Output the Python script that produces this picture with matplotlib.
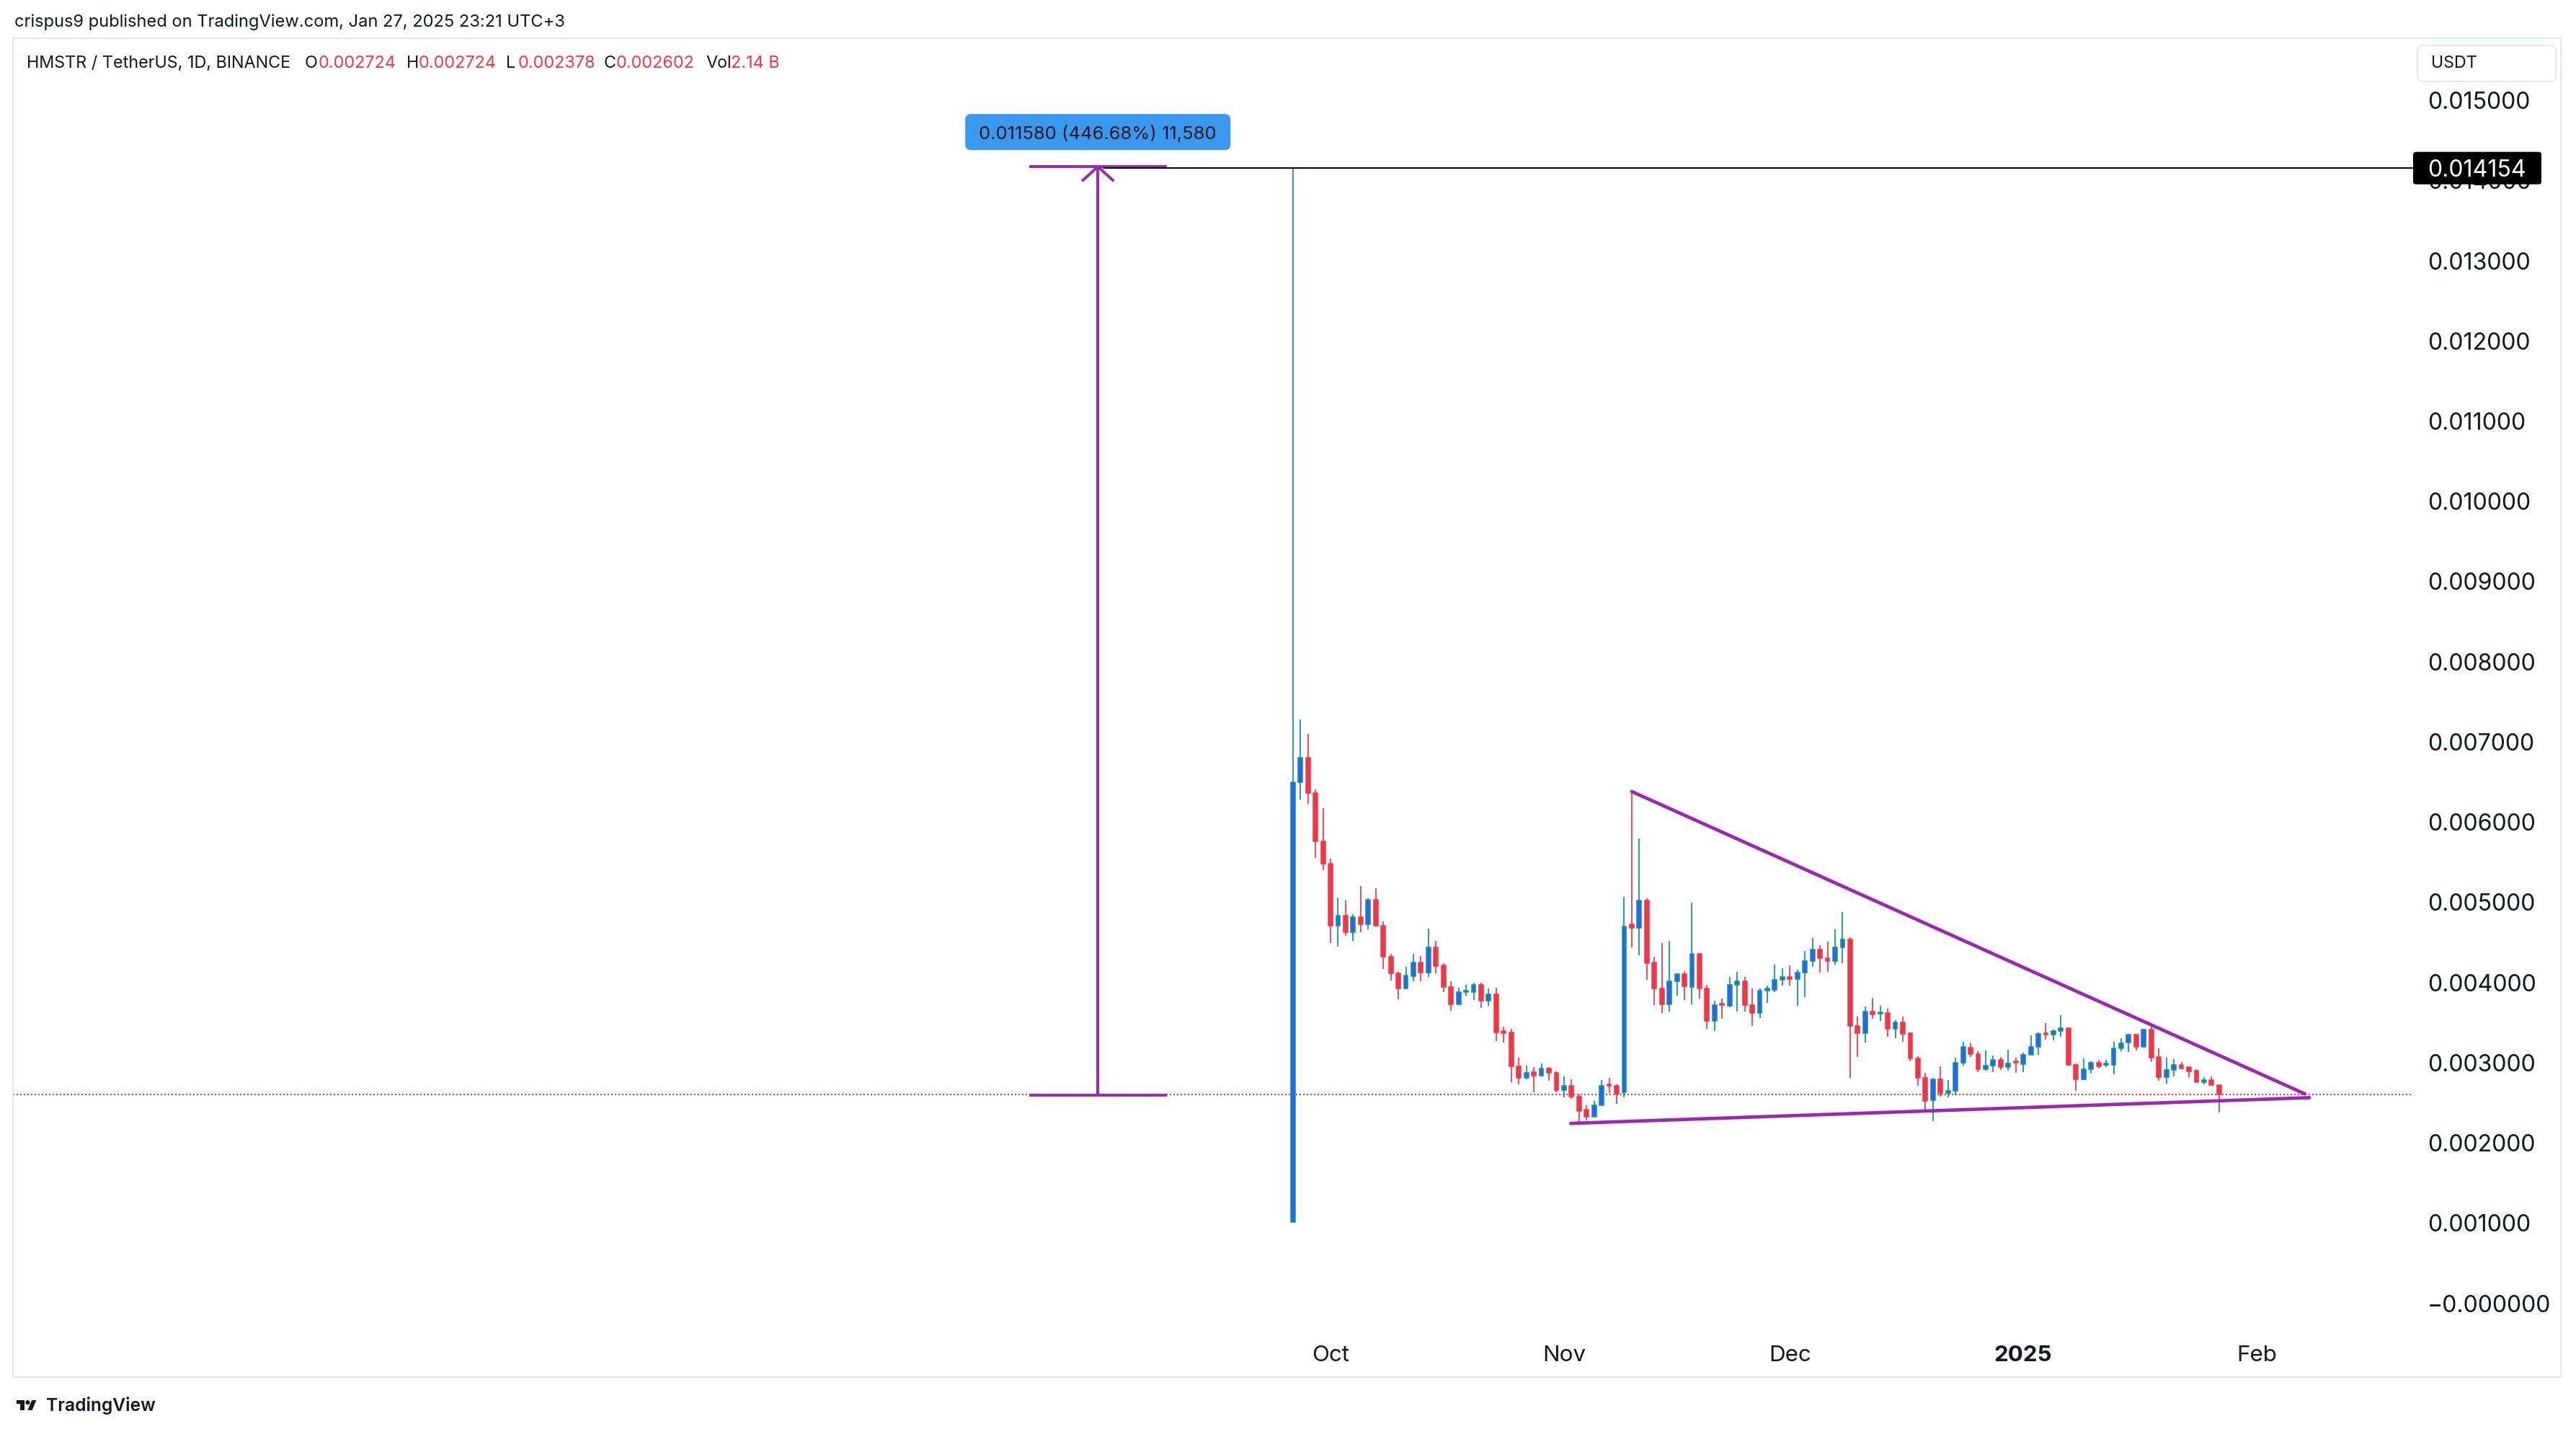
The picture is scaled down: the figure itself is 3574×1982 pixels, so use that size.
import numpy as np
import pandas as pd
import matplotlib
matplotlib.use("Agg")
import matplotlib.pyplot as plt
import matplotlib.dates as mdates
from matplotlib.font_manager import FontProperties
from matplotlib.patches import FancyBboxPatch, Rectangle, Polygon, Circle

FONT = ["Inter", "DejaVu Sans"]
plt.rcParams["font.family"] = FONT

# HMSTR / USDT daily candles, prices in thousandths of a USDT
dates = pd.date_range("2024-09-26", "2025-01-27", freq="D")
opens = [1.01, 6.50, 6.80, 6.36, 5.76, 5.48, 4.71, 4.83, 4.63, 4.81,
         4.72, 5.03, 4.71, 4.32, 4.11, 3.92, 4.08, 4.25, 4.12, 4.44,
         4.21, 3.94, 3.73, 3.88, 3.88, 3.97, 3.77, 3.85, 3.39, 3.38,
         2.95, 2.81, 2.88, 2.84, 2.93, 2.87, 2.66, 2.71, 2.58, 2.41,
         2.32, 2.47, 2.72, 2.71, 2.63, 4.72, 4.68, 5.02, 4.25, 3.92,
         3.73, 4.01, 4.10, 3.94, 4.36, 3.92, 3.52, 3.73, 3.71, 3.97,
         4.01, 3.72, 3.62, 3.90, 3.91, 4.03, 4.07, 4.04, 4.12, 4.27,
         4.41, 4.30, 4.27, 4.44, 4.54, 3.46, 3.37, 3.64, 3.61, 3.62,
         3.42, 3.50, 3.37, 3.05, 2.81, 2.53, 2.79, 2.62, 2.65, 3.00,
         3.19, 3.11, 2.92, 2.96, 3.03, 2.94, 3.01, 2.98, 3.10, 3.20,
         3.36, 3.35, 3.39, 3.43, 2.97, 2.79, 2.92, 3.00, 2.97, 2.97,
         3.18, 3.25, 3.35, 3.20, 3.41, 3.07, 2.82, 2.91, 2.97, 2.94,
         2.90, 2.76, 2.78, 2.724]
highs = [14.154, 7.28, 7.10, 6.41, 6.17, 5.54, 5.06, 5.02, 4.85, 5.20,
         5.05, 5.17, 4.76, 4.36, 4.13, 4.19, 4.36, 4.33, 4.67, 4.52,
         4.24, 4.01, 3.93, 3.97, 4.00, 4.00, 3.92, 3.93, 3.45, 3.42,
         3.06, 2.96, 2.94, 2.99, 2.94, 2.89, 2.83, 2.79, 2.60, 2.47,
         2.52, 2.78, 2.81, 2.73, 5.07, 6.38, 5.79, 5.05, 4.32, 4.49,
         4.52, 4.11, 4.14, 4.99, 4.36, 3.97, 3.77, 3.80, 4.07, 4.13,
         4.07, 3.92, 3.92, 3.96, 4.22, 4.18, 4.21, 4.16, 4.39, 4.55,
         4.46, 4.51, 4.66, 4.88, 4.56, 3.57, 3.70, 3.81, 3.71, 3.67,
         3.53, 3.57, 3.38, 3.08, 2.87, 2.81, 2.95, 2.78, 3.06, 3.26,
         3.24, 3.14, 3.15, 3.09, 3.07, 3.16, 3.06, 3.12, 3.34, 3.38,
         3.49, 3.41, 3.59, 3.43, 2.99, 3.05, 3.02, 3.03, 3.03, 3.26,
         3.30, 3.36, 3.35, 3.42, 3.45, 3.18, 3.06, 3.04, 3.01, 2.94,
         2.92, 2.82, 2.83, 2.724]
lows = [1.00, 6.28, 6.23, 5.55, 5.40, 4.49, 4.45, 4.58, 4.52, 4.63,
        4.66, 4.70, 4.17, 4.02, 3.79, 3.92, 4.01, 4.01, 4.07, 4.11,
        3.88, 3.65, 3.73, 3.83, 3.78, 3.68, 3.71, 3.27, 3.25, 2.76,
        2.73, 2.79, 2.63, 2.83, 2.77, 2.63, 2.57, 2.55, 2.25, 2.28,
        2.32, 2.47, 2.62, 2.49, 2.57, 4.44, 4.34, 4.03, 3.72, 3.62,
        3.64, 3.83, 3.78, 3.73, 3.80, 3.42, 3.39, 3.55, 3.69, 3.64,
        3.64, 3.46, 3.56, 3.74, 3.88, 3.96, 3.96, 3.71, 3.82, 4.19,
        4.12, 4.13, 4.22, 4.24, 2.81, 3.07, 3.25, 3.55, 3.52, 3.32,
        3.30, 3.26, 3.02, 2.71, 2.41, 2.27, 2.58, 2.57, 2.59, 2.96,
        3.07, 2.88, 2.90, 2.88, 2.91, 2.90, 2.87, 2.88, 3.10, 3.10,
        3.29, 3.28, 3.32, 2.96, 2.65, 2.78, 2.86, 2.93, 2.94, 2.85,
        3.14, 3.13, 3.15, 3.20, 3.01, 2.77, 2.74, 2.83, 2.92, 2.82,
        2.76, 2.73, 2.72, 2.378]
closes = [6.50, 6.80, 6.36, 5.76, 5.48, 4.71, 4.83, 4.63, 4.81, 4.72,
          5.03, 4.71, 4.32, 4.11, 3.92, 4.09, 4.25, 4.12, 4.44, 4.20,
          3.94, 3.73, 3.88, 3.90, 3.97, 3.77, 3.85, 3.38, 3.37, 2.95,
          2.81, 2.87, 2.84, 2.93, 2.87, 2.66, 2.71, 2.58, 2.40, 2.32,
          2.47, 2.71, 2.71, 2.61, 4.70, 4.68, 5.02, 4.24, 3.92, 3.73,
          4.01, 4.10, 3.95, 4.36, 3.92, 3.52, 3.72, 3.72, 3.97, 4.01,
          3.72, 3.62, 3.90, 3.92, 4.03, 4.07, 4.04, 4.12, 4.27, 4.41,
          4.30, 4.27, 4.44, 4.54, 3.46, 3.37, 3.64, 3.60, 3.63, 3.42,
          3.50, 3.36, 3.05, 2.81, 2.52, 2.79, 2.62, 2.65, 3.00, 3.20,
          3.11, 2.92, 2.96, 3.03, 2.94, 2.99, 3.00, 3.10, 3.20, 3.36,
          3.35, 3.39, 3.43, 2.97, 2.79, 2.92, 3.00, 2.95, 2.98, 3.18,
          3.24, 3.35, 3.20, 3.41, 3.06, 2.82, 2.91, 2.97, 2.93, 2.89,
          2.76, 2.78, 2.724, 2.602]

last_price = 2.602
ath_price = 14.154
measure_low, measure_high = 2.592, 14.172
# trendlines: (days after first candle, price)
upper_line = [(45.0, 6.38), (134.4, 2.61)]
lower_line = [(36.9, 2.242), (135.0, 2.563)]

y_ticks = [0.0, 1.0, 2.0, 3.0, 4.0, 5.0, 6.0, 7.0, 8.0,
           9.0, 10.0, 11.0, 12.0, 13.0, 14.0, 15.0]
y_labels = ["\u22120.000000", "0.001000", "0.002000", "0.003000", "0.004000",
            "0.005000", "0.006000", "0.007000", "0.008000", "0.009000",
            "0.010000", "0.011000", "0.012000", "0.013000", "0.014000",
            "0.015000"]
month_ticks = pd.to_datetime(["2024-10-01", "2024-11-01", "2024-12-01",
                              "2025-01-01", "2025-02-01"])
month_labels = ["Oct", "Nov", "Dec", "2025", "Feb"]

UP_FILL = "#2962ff"
UP_EDGE = "#089981"
DOWN = "#f23645"
PURPLE = "#9c27b0"
TEXT = "#131722"

W, H = 3574, 1982
fig = plt.figure(figsize=(W / 100, H / 100), dpi=100)
fig.patch.set_facecolor("white")
renderer = fig.canvas.get_renderer()


def fit(s, width_px, weight="normal"):
    fp = FontProperties(family=FONT, size=20, weight=weight)
    w, _, _ = renderer.get_text_width_height_descent(s, fp, ismath=False)
    return 20 * width_px / w


fs_price = fit("0.015000", 143)
fs_time = fit("Oct", 52)
fs_head = fit("crispus9 published on TradingView.com, Jan 27, 2025 23:21 UTC+3", 764)
fs_sym = fit("HMSTR / TetherUS, 1D, BINANCE", 368)
fs_usdt = fit("USDT", 64)
fs_meas = fit("0.011580 (446.68%) 11,580", 330)
fs_logo = fit("TradingView", 152, "semibold")

# main price pane
L, R, T, B = 18, 3348, 53, 1840
ax = fig.add_axes([L / W, 1 - B / H, (R - L) / W, (B - T) / H])
ax.patch.set_visible(False)
for sp in ax.spines.values():
    sp.set_visible(False)

x = mdates.date2num(dates.to_pydatetime())
x0 = x[0]
day_px = 10.447
first_px = 1793.8
ax.set_xlim(x0 - (first_px - L) / day_px, x0 + (R - first_px) / day_px)
zero_px, k = 1807.5, 111.23
ax.set_ylim((zero_px - B) / k, (zero_px - T) / k)

o = np.array(opens)
h = np.array(highs)
lo = np.array(lows)
c = np.array(closes)
up = c >= o
wick_col = np.where(up, UP_EDGE, DOWN)
ax.vlines(x, lo, h, colors=wick_col, lw=1.25, zorder=2)
body_h = np.maximum(np.abs(c - o), 0.018)
ax.bar(x[up], body_h[up], bottom=np.minimum(o, c)[up], width=0.56,
       color=UP_FILL, edgecolor=UP_EDGE, linewidth=1.1, zorder=3)
ax.bar(x[~up], body_h[~up], bottom=np.minimum(o, c)[~up], width=0.56,
       color=DOWN, edgecolor=DOWN, linewidth=1.1, zorder=3)

# last price dotted line
ax.axhline(last_price, color=DOWN, lw=1.5, linestyle=(0, (1, 1.4)), zorder=1)

# price range measure
mx = x0 - 25.9
ax.hlines([measure_low, measure_high], mx - 9.15, mx + 9.15, color=PURPLE, lw=2.8, zorder=4)
ax.vlines(mx, measure_low, measure_high, color=PURPLE, lw=2.8, zorder=4)
ax.plot([mx - 2.0, mx, mx + 2.0], [measure_high - 0.171, measure_high, measure_high - 0.171],
        color=PURPLE, lw=2.8, zorder=4, solid_capstyle="round")
# horizontal ray at the high
ax.hlines(ath_price, x0 - 25.25, ax.get_xlim()[1], color="black", lw=1.4, zorder=4)

# triangle
for line in (upper_line, lower_line):
    ax.plot([x0 + line[0][0], x0 + line[1][0]], [line[0][1], line[1][1]],
            color=PURPLE, lw=3.4, solid_capstyle="round", zorder=5)

ax.yaxis.tick_right()
ax.set_yticks(y_ticks)
ax.set_yticklabels(y_labels)
ax.tick_params(axis="y", length=0, pad=20 * 0.72, labelsize=fs_price, labelcolor=TEXT)
ax.set_xticks(mdates.date2num(month_ticks.to_pydatetime()))
ax.set_xticklabels(month_labels)
ax.tick_params(axis="x", length=0, pad=40 * 0.72, labelsize=fs_time, labelcolor=TEXT)
for lab in ax.get_xticklabels():
    lab.set_verticalalignment("center")
ax.get_xticklabels()[3].set_fontweight("bold")

# overlay in figure pixels
pax = fig.add_axes([0, 0, 1, 1], zorder=5)
pax.set_xlim(0, W)
pax.set_ylim(H, 0)
pax.axis("off")
pax.patch.set_visible(False)

pax.add_patch(Rectangle((18, 53), 3553 - 18, 1910 - 53, fill=False, ec="#e0e3eb", lw=1.2))
pax.text(20, 31, "crispus9 published on TradingView.com, Jan 27, 2025 23:21 UTC+3",
         fontsize=fs_head, color=TEXT, ha="left", va="center")

sym_parts = [(37, "HMSTR / TetherUS, 1D, BINANCE", TEXT),
             (423, "O", TEXT), (442, "0.002724", DOWN),
             (564, "H", TEXT), (581, "0.002724", DOWN),
             (702, "L", TEXT), (719, "0.002378", DOWN),
             (838, "C", TEXT), (855, "0.002602", DOWN),
             (979, "Vol", TEXT), (1014, "2.14 B", DOWN)]
for px, s, col in sym_parts:
    pax.text(px, 88, s, fontsize=fs_sym, color=col, ha="left", va="center")

pax.add_patch(FancyBboxPatch((3354, 63), 192, 50, boxstyle="round,pad=0,rounding_size=8",
                             fc="white", ec="#e0e3eb", lw=1.2))
pax.text(3373, 88, "USDT", fontsize=fs_usdt, color=TEXT, ha="left", va="center")

# price label of the horizontal ray
_, yd = ax.transData.transform((x0, ath_price))
yc = H - yd
pax.add_patch(FancyBboxPatch((R, yc - 22.5), 178, 45, boxstyle="round,pad=0,rounding_size=4",
                             fc="black", ec="none"))
pax.text(3368, yc, "0.014154", fontsize=fs_price, color="white", ha="left", va="center_baseline")

# measure label
xd, yd = ax.transData.transform((mx, measure_high))
cx, cy = xd, H - yd - 48
pax.add_patch(FancyBboxPatch((cx - 184, cy - 25), 368, 50, boxstyle="round,pad=0,rounding_size=8",
                             fc="#3a99ee", ec="none"))
pax.text(cx, cy, "0.011580 (446.68%) 11,580", fontsize=fs_meas, color=TEXT,
         ha="center", va="center_baseline")

# TradingView logo
s = 0.77
ox, oy = 23, 1949 - 13 * s
p1 = [(14, 22), (7, 22), (7, 11), (0, 11), (0, 4), (14, 4)]
p2 = [(28, 22), (20, 22), (27.5, 4), (35.5, 4)]
for poly in (p1, p2):
    pax.add_patch(Polygon([(ox + a * s, oy + b * s) for a, b in poly], closed=True, fc=TEXT, ec="none"))
pax.add_patch(Circle((ox + 20 * s, oy + 8 * s), 4 * s, fc=TEXT, ec="none"))
pax.text(64, 1949, "TradingView", fontsize=fs_logo, fontweight="semibold", color=TEXT,
         ha="left", va="center")

fig.savefig("out.png", dpi=100)
